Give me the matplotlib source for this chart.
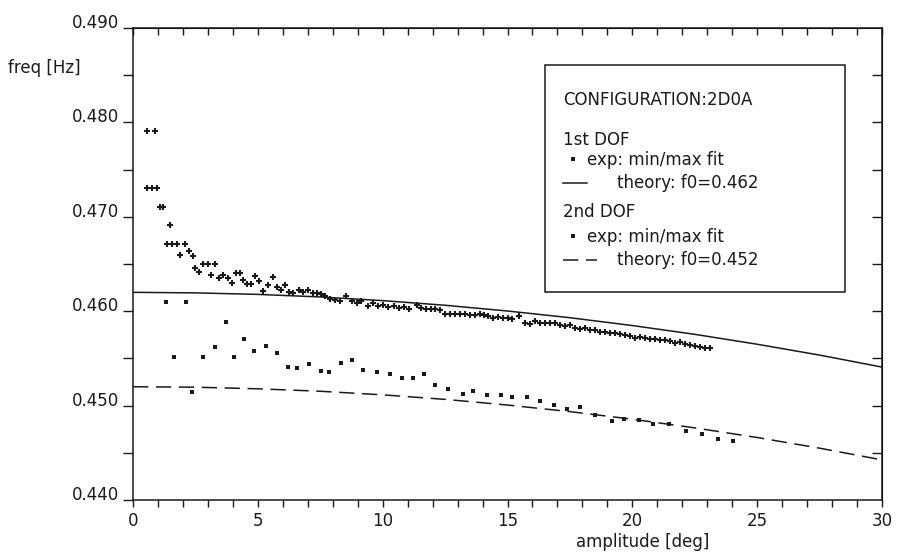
import matplotlib
matplotlib.use("Agg")
import matplotlib.pyplot as plt
from matplotlib.patches import Rectangle

plt.rcParams['font.family'] = ['DejaVu Sans']

# 1st DOF, measured (min/max fit)
amp1 = [0.56, 0.88, 0.56, 0.76, 0.96, 1.08, 1.20, 1.48, 1.35, 1.55, 1.75, 1.88, 2.08, 2.26,
        2.39, 2.49, 2.64, 2.82, 3.00, 3.12, 3.30, 3.45, 3.59, 3.79, 3.95, 4.12, 4.29, 4.42,
        4.55, 4.71, 4.89, 5.06, 5.22, 5.42, 5.59, 5.75, 5.91, 6.09, 6.26, 6.42, 6.66, 6.82,
        6.99, 7.19, 7.35, 7.52, 7.69, 7.89, 8.10, 8.30, 8.55, 8.76, 8.96, 9.15, 9.42, 9.60,
        9.80, 10.0, 10.2, 10.45, 10.65, 10.85, 11.05, 11.36, 11.55, 11.75, 11.95, 12.1, 12.3,
        12.49, 12.7, 12.9, 13.1, 13.3, 13.5, 13.7, 13.9, 14.05, 14.23, 14.4, 14.6, 14.8, 15.0,
        15.2, 15.47, 15.7, 15.9, 16.1, 16.3, 16.5, 16.7, 16.9, 17.1, 17.3, 17.5, 17.7, 17.9,
        18.1, 18.3, 18.5, 18.7, 18.9, 19.1, 19.3, 19.5, 19.7, 19.9, 20.1, 20.3, 20.5, 20.7,
        20.9, 21.1, 21.3, 21.5, 21.7, 21.9, 22.1, 22.3, 22.5, 22.7, 22.9, 23.1]
freq1 = [0.4791, 0.4791, 0.4730, 0.4730, 0.4730, 0.4710, 0.4710, 0.4691, 0.4671, 0.4671, 0.4671,
         0.4660, 0.4671, 0.4664, 0.4658, 0.4646, 0.4641, 0.4650, 0.4650, 0.4638, 0.4650, 0.4635,
         0.4638, 0.4635, 0.4630, 0.4640, 0.4640, 0.4633, 0.4629, 0.4629, 0.4637, 0.4632, 0.4621,
         0.4628, 0.4636, 0.4626, 0.4622, 0.4628, 0.4620, 0.4619, 0.4622, 0.4620, 0.4622, 0.4619,
         0.4619, 0.4618, 0.4616, 0.4613, 0.4612, 0.4611, 0.4616, 0.4611, 0.4609, 0.4611, 0.4606,
         0.4609, 0.4605, 0.4607, 0.4604, 0.4605, 0.4603, 0.4604, 0.4602, 0.4607, 0.4603, 0.4602,
         0.4602, 0.4602, 0.4601, 0.4597, 0.4597, 0.4597, 0.4597, 0.4597, 0.4596, 0.4596, 0.4597,
         0.4596, 0.4595, 0.4593, 0.4594, 0.4593, 0.4593, 0.4592, 0.4595, 0.4588, 0.4586, 0.4590,
         0.4588, 0.4588, 0.4587, 0.4587, 0.4585, 0.4584, 0.4585, 0.4582, 0.4581, 0.4582, 0.4580,
         0.4580, 0.4578, 0.4578, 0.4577, 0.4577, 0.4576, 0.4575, 0.4574, 0.4572, 0.4573, 0.4572,
         0.4571, 0.4571, 0.4569, 0.4570, 0.4568, 0.4566, 0.4567, 0.4565, 0.4564, 0.4563, 0.4562,
         0.4561, 0.4561]

# 2nd DOF, measured (min/max fit)
amp2 = [1.32, 2.12, 1.65, 2.35, 2.82, 3.28, 3.72, 4.06, 4.45, 4.86, 5.31, 5.75, 6.22, 6.58,
        7.05, 7.52, 7.86, 8.32, 8.78, 9.22, 9.76, 10.29, 10.76, 11.2, 11.65, 12.1, 12.63, 13.2,
        13.63, 14.19, 14.73, 15.2, 15.77, 16.3, 16.86, 17.37, 17.9, 18.5, 19.17, 19.66, 20.25,
        20.84, 21.48, 22.13, 22.78, 23.42, 24.04]
freq2 = [0.4610, 0.4610, 0.4552, 0.4514, 0.4552, 0.4562, 0.4589, 0.4552, 0.4571, 0.4558, 0.4563,
         0.4556, 0.4541, 0.4540, 0.4544, 0.4537, 0.4536, 0.4545, 0.4548, 0.4538, 0.4536, 0.4533,
         0.4529, 0.4529, 0.4534, 0.4522, 0.4518, 0.4512, 0.4515, 0.4511, 0.4511, 0.4509, 0.4509,
         0.4505, 0.4501, 0.4496, 0.4498, 0.4490, 0.4484, 0.4486, 0.4485, 0.4481, 0.4480, 0.4473,
         0.4470, 0.4465, 0.4462]

# theory curves
amp_th = [0, 2.5, 5, 7.5, 10, 12.5, 15, 17.5, 20, 22.5, 25, 27.5, 30]
theory1 = [0.4620, 0.46194, 0.46178, 0.46151, 0.46112, 0.46063, 0.46002, 0.45931, 0.45848,
           0.45755, 0.45650, 0.45535, 0.45408]
theory2 = [0.4520, 0.45195, 0.45178, 0.45152, 0.45114, 0.45066, 0.45006, 0.44936, 0.44856,
           0.44764, 0.44662, 0.44549, 0.44425]

xticks = [0, 5, 10, 15, 20, 25, 30]
yticks = [0.440, 0.450, 0.460, 0.470, 0.480, 0.490]
ylabels = ["0.440", "0.450", "0.460", "0.470", "0.480", "0.490"]

ink = "#1a1a1a"
fs = 12

fig = plt.figure(figsize=(8.97, 5.6), dpi=100)
ax = fig.add_axes([133 / 897, 1 - 500 / 560, 749 / 897, 472 / 560])

ax.plot(amp_th, theory1, color=ink, lw=1.1)
ax.plot(amp_th, theory2, color=ink, lw=1.1, dashes=(10, 5))
ax.plot(amp1, freq1, ls="none", marker="+", ms=4.5, mew=1.5, color=ink)
ax.plot(amp2, freq2, ls="none", marker="s", ms=2.4, mew=0, color=ink)

ax.set_xlim(0, 30)
ax.set_ylim(0.44, 0.49)
ax.set_xticks(xticks)
ax.set_xticks(range(31), minor=True)
ax.set_yticks(yticks, labels=ylabels, va="baseline")
ax.set_yticks([0.445, 0.455, 0.465, 0.475, 0.485], minor=True)

for s in ax.spines.values():
    s.set_linewidth(1.1)
    s.set_color(ink)

ax.tick_params(axis="x", which="both", direction="out", length=5, width=1.0,
               colors=ink, labelsize=fs, pad=4, top=False)
ax.tick_params(axis="y", which="both", direction="out", length=7, width=1.0,
               colors=ink, labelsize=fs, pad=3, right=False)

top = ax.secondary_xaxis("top")
top.set_xticks(range(31))
top.tick_params(direction="in", length=5, width=1.0, colors=ink, labeltop=False)
right = ax.secondary_yaxis("right")
right.set_yticks([0.445, 0.45, 0.455, 0.46, 0.465, 0.47, 0.475, 0.48, 0.485])
right.tick_params(direction="in", length=7, width=1.0, colors=ink, labelright=False)

fig.text(8 / 897, 1 - 68 / 560, "freq [Hz]", fontsize=fs, color=ink, va="center", ha="left")
ax.text(0.68, -0.09, "amplitude [deg]", transform=ax.transAxes, fontsize=fs, color=ink,
        ha="center", va="center")

# legend box
ax.add_patch(Rectangle((0.550, 0.441), 0.401, 0.481, transform=ax.transAxes, fill=False,
                       lw=1.1, ec=ink))
tx = 0.574
ax.text(tx, 0.847, "CONFIGURATION:2D0A", transform=ax.transAxes, fontsize=fs, color=ink, va="center")
ax.text(tx, 0.763, "1st DOF", transform=ax.transAxes, fontsize=fs, color=ink, va="center")
ax.plot([0.588], [0.722], transform=ax.transAxes, ls="none", marker="s", ms=2.2, mew=0, color=ink)
ax.text(0.606, 0.720, "exp: min/max fit", transform=ax.transAxes, fontsize=fs, color=ink, va="center")
ax.plot([0.574, 0.606], [0.672, 0.672], transform=ax.transAxes, color=ink, lw=1.1)
ax.text(0.646, 0.672, "theory: f0=0.462", transform=ax.transAxes, fontsize=fs, color=ink, va="center")
ax.text(tx, 0.610, "2nd DOF", transform=ax.transAxes, fontsize=fs, color=ink, va="center")
ax.plot([0.588], [0.559], transform=ax.transAxes, ls="none", marker="s", ms=2.2, mew=0, color=ink)
ax.text(0.606, 0.557, "exp: min/max fit", transform=ax.transAxes, fontsize=fs, color=ink, va="center")
ax.plot([0.574, 0.620], [0.508, 0.508], transform=ax.transAxes, color=ink, lw=1.1, dashes=(10, 5))
ax.text(0.646, 0.508, "theory: f0=0.452", transform=ax.transAxes, fontsize=fs, color=ink, va="center")

fig.savefig("out.png", dpi=100)
